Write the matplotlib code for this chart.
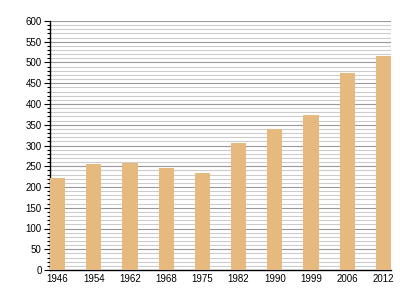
import matplotlib
matplotlib.use('Agg')
import matplotlib.pyplot as plt
from matplotlib.ticker import MultipleLocator

years = ['1946', '1954', '1962', '1968', '1975', '1982', '1990', '1999', '2006', '2012']
values = [222, 255, 259, 246, 234, 306, 340, 373, 475, 516]

plt.rcParams['font.family'] = ['Liberation Sans', 'DejaVu Sans']

fig = plt.figure(figsize=(4, 3), dpi=100)
ax = fig.add_axes([0.125, 0.1, 0.8525, 0.83])

w = 0.42
x = list(range(len(years)))
ax.bar(x, values, width=w, color='#e6b97f', zorder=3)

ax.set_xlim(-w / 2, len(years) - 1 + w / 2)
ax.set_ylim(0, 600)
ax.set_xticks(x)
ax.set_xticklabels(years)
ax.yaxis.set_major_locator(MultipleLocator(50))
ax.yaxis.set_minor_locator(MultipleLocator(10))

ax.grid(axis='y', which='major', color='#999999', linewidth=0.8, zorder=0)
ax.grid(axis='y', which='minor', color='#cccccc', linewidth=0.8, zorder=0)

for s in ['top', 'right']:
    ax.spines[s].set_visible(False)
ax.spines['left'].set_linewidth(1.0)
ax.spines['bottom'].set_linewidth(1.0)

ax.tick_params(axis='y', which='major', length=4, width=0.8, labelsize=7, pad=2)
ax.tick_params(axis='y', which='minor', length=2, width=0.8)
ax.tick_params(axis='x', length=0, labelsize=7, pad=3)

fig.savefig('out.png', dpi=100)
